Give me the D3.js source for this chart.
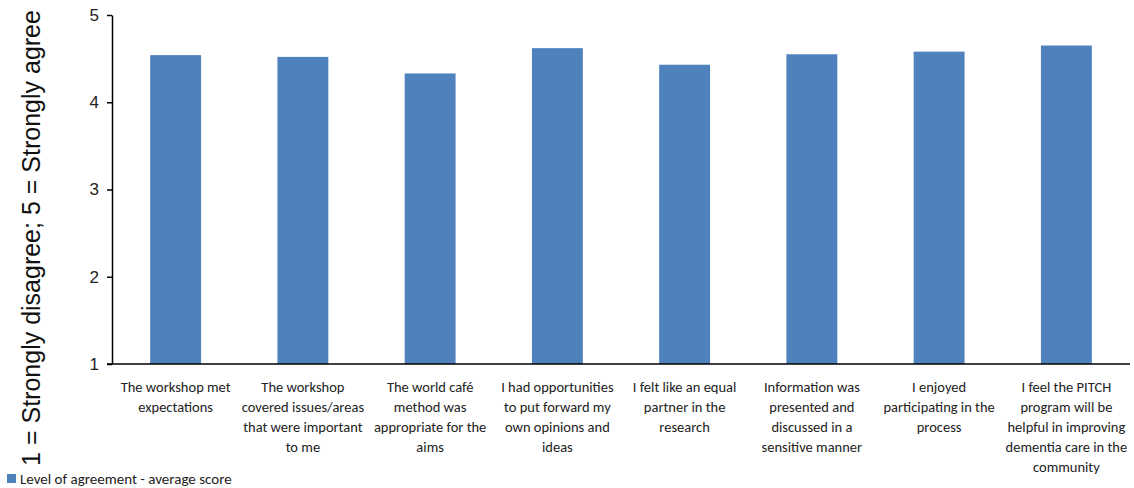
<!DOCTYPE html>
<html>
<head>
<meta charset="utf-8">
<script src="https://d3js.org/d3.v7.min.js"></script>
<style>
body { margin: 0; background: white; }
.xlab { font-family: Carlito, 'Liberation Sans Narrow', Lato, sans-serif; font-size: 14.5px; fill: #222; }
</style>
</head>
<body>
<svg id="chart" width="1134" height="488"></svg>
<script>
// statements (wrapped as in the original)
var categories = [
  ["The workshop met", "expectations"],
  ["The workshop", "covered issues/areas", "that were important", "to me"],
  ["The world café", "method was", "appropriate for the", "aims"],
  ["I had opportunities", "to put forward my", "own opinions and", "ideas"],
  ["I felt like an equal", "partner in the", "research"],
  ["Information was", "presented and", "discussed in a", "sensitive manner"],
  ["I enjoyed", "participating in the", "process"],
  ["I feel the PITCH", "program will be", "helpful in improving", "dementia care in the", "community"]
];
var scores = [4.54, 4.52, 4.33, 4.62, 4.43, 4.55, 4.58, 4.65];
var yTicks = [1, 2, 3, 4, 5];
var seriesName = "Level of agreement - average score";
var yTitle = "1 = Strongly disagree; 5 = Strongly agree";

var svg = d3.select("#chart");
var mLeft = 112, mRight = 1130, mTop = 15, mBottom = 364;
var barColor = "#4F81BD";

var x = d3.scaleBand().domain(d3.range(categories.length)).range([mLeft, mRight]).paddingInner(0.6).paddingOuter(0.3);
var y = d3.scaleLinear().domain([1, 5]).range([mBottom, mTop]);

// bars
svg.append("g").selectAll("rect")
  .data(scores)
  .enter().append("rect")
  .attr("x", function(d, i) { return x(i); })
  .attr("y", function(d) { return y(d); })
  .attr("width", x.bandwidth())
  .attr("height", function(d) { return y(1) - y(d); })
  .attr("fill", barColor);

// y axis
var yAxis = svg.append("g")
  .attr("transform", "translate(" + mLeft + ",0)")
  .call(d3.axisLeft(y).tickValues(yTicks).tickSize(5).tickSizeOuter(0).tickPadding(8).tickFormat(d3.format("d")));
yAxis.select(".domain").attr("stroke", "#000").attr("stroke-width", 1.5);
yAxis.selectAll(".tick line").attr("stroke", "#000").attr("stroke-width", 1.5);
yAxis.selectAll(".tick text")
  .attr("fill", "#222")
  .style("font-size", "17px")
  .style("font-family", "'Liberation Sans', Arial, sans-serif");

// x axis line
svg.append("line")
  .attr("x1", mLeft - 5).attr("x2", mRight)
  .attr("y1", y(1)).attr("y2", y(1))
  .attr("stroke", "#000").attr("stroke-width", 1.5);

// category labels
var labels = svg.append("g").selectAll("text")
  .data(categories)
  .enter().append("text")
  .attr("class", "xlab")
  .attr("text-anchor", "middle")
  .attr("x", function(d, i) { return x(i) + x.bandwidth() / 2; });
labels.selectAll("tspan")
  .data(function(d) { return d; })
  .enter().append("tspan")
  .attr("x", function() { return this.parentNode.getAttribute("x"); })
  .attr("y", function(d, j) { return 392 + j * 20; })
  .text(function(d) { return d; });

// y axis title
svg.append("text")
  .attr("transform", "translate(40,238) rotate(-90)")
  .attr("text-anchor", "middle")
  .style("font-family", "'Liberation Sans', Arial, sans-serif")
  .style("font-size", "25px")
  .attr("fill", "#111")
  .text(yTitle);

// legend
svg.append("rect")
  .attr("x", 7).attr("y", 474).attr("width", 9).attr("height", 9)
  .attr("fill", barColor);
svg.append("text")
  .attr("x", 20).attr("y", 484)
  .attr("class", "xlab")
  .style("font-size", "15px")
  .text(seriesName);
</script>
</body>
</html>
